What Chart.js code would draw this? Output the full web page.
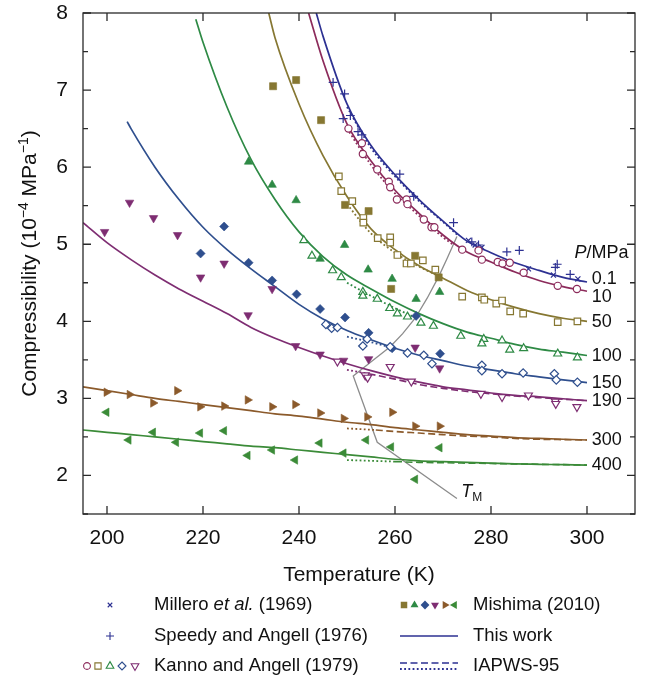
<!DOCTYPE html>
<html lang="en">
<head>
<meta charset="UTF-8">
<title>Compressibility of supercooled water</title>
<script src="https://cdn.jsdelivr.net/npm/chart.js"></script>
<style>
  body { margin: 0; background: #fff; }
</style>
</head>
<body>
<div style="width:657px; height:677px;">
  <canvas id="chart" width="657" height="677"></canvas>
</div>
<script>
// axis ticks
const xTicks = [200, 220, 240, 260, 280, 300];
const yTicks = [2, 3, 4, 5, 6, 7, 8];
const yMinor = [1.5, 2.5, 3.5, 4.5, 5.5, 6.5, 7.5];

// "This work" curves, one per pressure (T in K, kappa in 1e-4 MPa^-1)
const t01 = [243.6, 245, 250, 255, 260, 265, 270, 275, 280, 285, 290, 295, 300];
const k01 = [8.0, 7.7, 6.82, 6.28, 5.9, 5.58, 5.3, 5.04, 4.89, 4.76, 4.66, 4.57, 4.51];
const t10 = [242, 245, 250, 255, 260, 265, 270, 275, 280, 285, 290, 295, 300];
const k10 = [8.0, 7.38, 6.56, 6.08, 5.7, 5.4, 5.12, 4.9, 4.77, 4.64, 4.53, 4.45, 4.39];
const t50 = [233.7, 235, 240, 245, 250, 255, 260, 265, 270, 275, 280, 285, 290, 295, 300];
const k50 = [8.0, 7.68, 6.82, 6.15, 5.62, 5.2, 4.93, 4.72, 4.56, 4.4, 4.28, 4.18, 4.1, 4.04, 4.0];
const t100 = [218.5, 220, 225, 230, 235, 240, 245, 250, 255, 260, 265, 270, 275, 280, 285, 290, 295, 300];
const k100 = [7.92, 7.62, 6.78, 6.1, 5.58, 5.16, 4.84, 4.6, 4.42, 4.25, 4.1, 3.97, 3.86, 3.78, 3.7, 3.64, 3.6, 3.556];
const t150 = [204.2, 205, 210, 215, 220, 225, 230, 235, 240, 245, 250, 255, 260, 265, 270, 275, 280, 285, 290, 295, 300];
const k150 = [6.59, 6.5, 6.0, 5.58, 5.22, 4.93, 4.68, 4.45, 4.22, 4.03, 3.88, 3.76, 3.65, 3.56, 3.49, 3.42, 3.37, 3.32, 3.28, 3.24, 3.205];
const tLow = [195, 200, 205, 210, 215, 220, 225, 230, 235, 240, 245, 250, 255, 260, 265, 270, 275, 280, 285, 290, 295, 300];
const k190 = [5.28, 5.02, 4.8, 4.6, 4.42, 4.26, 4.1, 3.92, 3.78, 3.66, 3.55, 3.45, 3.36, 3.28, 3.21, 3.15, 3.11, 3.07, 3.04, 3.02, 2.995, 2.97];
const k300 = [3.15, 3.1, 3.05, 3.0, 2.96, 2.92, 2.88, 2.84, 2.8, 2.77, 2.73, 2.69, 2.66, 2.62, 2.59, 2.56, 2.53, 2.51, 2.49, 2.48, 2.47, 2.46];
const k400 = [2.59, 2.56, 2.53, 2.5, 2.47, 2.44, 2.41, 2.38, 2.36, 2.33, 2.3, 2.27, 2.24, 2.21, 2.19, 2.18, 2.17, 2.16, 2.15, 2.145, 2.14, 2.135];

// IAPWS-95: dotted below the melting line, dashed above it
const iapDotT01 = [250, 255, 260, 265, 270, 273];
const iapDotK01 = [6.78, 6.25, 5.88, 5.56, 5.29, 5.12];
const iapDotT10 = [250, 255, 260, 265, 270, 272];
const iapDotK10 = [6.5, 6.03, 5.66, 5.37, 5.09, 5.0];
const iapDotT50 = [250, 255, 260, 265, 268.7];
const iapDotK50 = [5.52, 5.14, 4.89, 4.71, 4.6];
const iapDotT100 = [250, 255, 260, 264.2];
const iapDotK100 = [4.5, 4.33, 4.17, 4.05];
const iapDotT150 = [250, 255, 259.2];
const iapDotK150 = [3.8, 3.73, 3.66];
const iapDotT190 = [250, 254.5];
const iapDotK190 = [3.37, 3.32];
const iapDotT300 = [250, 256];
const iapDotK300 = [2.61, 2.59];
const iapDotT400 = [250, 255, 260];
const iapDotK400 = [2.2, 2.19, 2.18];
const iapDashT190 = [254.5, 260, 265, 270, 275, 280, 285, 290, 295, 300];
const iapDashK190 = [3.32, 3.25, 3.18, 3.13, 3.09, 3.06, 3.03, 3.01, 2.99, 2.97];
const iapDashT300 = [256, 260, 265, 270, 275, 280, 285, 290, 295, 300];
const iapDashK300 = [2.59, 2.57, 2.55, 2.53, 2.51, 2.5, 2.48, 2.47, 2.465, 2.46];
const iapDashT400 = [260, 265, 270, 275, 280, 285, 290, 295, 300];
const iapDashK400 = [2.18, 2.17, 2.165, 2.16, 2.155, 2.15, 2.145, 2.14, 2.135];

// melting line T_M
const tmT = [272.9, 270.9, 269.1, 266.7, 264.2, 261.6, 259.0, 255.1, 251.3, 256.3, 272.9];
const tmK = [5.10, 4.82, 4.58, 4.30, 4.04, 3.84, 3.67, 3.48, 3.29, 2.43, 1.70];

// Millero et al. (1969), Speedy and Angell (1976), 0.1 MPa
const milleroT = [275.3, 276.7, 278.1, 287.8, 293.0, 298.1];
const milleroK = [5.05, 4.99, 4.96, 4.68, 4.60, 4.55];
const speedyT = [247.1, 249.5, 249.2, 250.7, 252.3, 253.1, 261.0, 263.9, 272.2, 276.0, 277.4, 283.3, 285.9, 293.8, 293.4, 296.5];
const speedyK = [7.10, 6.95, 6.63, 6.67, 6.46, 6.42, 5.91, 5.62, 5.28, 5.03, 4.99, 4.90, 4.92, 4.74, 4.70, 4.61];

// Kanno and Angell (1979), open markers
const kaT10 = [250.3, 253.1, 253.3, 256.3, 258.7, 259.0, 260.4, 262.4, 262.6, 266.0, 267.6, 268.2, 274.0, 277.4, 278.1, 281.4, 282.4, 283.9, 286.8, 293.9, 297.9];
const kaK10 = [6.50, 6.31, 6.17, 5.97, 5.81, 5.74, 5.58, 5.58, 5.52, 5.32, 5.22, 5.22, 4.93, 4.92, 4.80, 4.77, 4.75, 4.76, 4.63, 4.46, 4.42];
const kaT50 = [248.3, 248.8, 251.1, 253.4, 253.4, 256.4, 259.0, 259.0, 260.5, 262.4, 263.3, 265.8, 268.4, 274.0, 278.1, 278.6, 281.1, 282.3, 284.0, 286.7, 293.9, 298.0];
const kaK50 = [5.88, 5.69, 5.56, 5.34, 5.28, 5.08, 5.09, 5.02, 4.86, 4.75, 4.75, 4.79, 4.67, 4.32, 4.31, 4.28, 4.23, 4.27, 4.13, 4.10, 3.99, 4.00];
const kaT100 = [241.0, 242.7, 247.0, 248.8, 253.3, 253.3, 256.3, 258.9, 260.5, 262.6, 265.4, 268.0, 273.7, 278.5, 278.1, 282.3, 283.9, 286.8, 293.9, 298.0];
const kaK100 = [5.05, 4.85, 4.66, 4.57, 4.38, 4.33, 4.29, 4.17, 4.10, 4.06, 3.98, 3.94, 3.81, 3.77, 3.71, 3.75, 3.63, 3.65, 3.58, 3.53];
const kaT150 = [245.6, 246.8, 248.0, 253.3, 254.2, 259.0, 262.6, 266.0, 267.7, 278.1, 278.1, 282.3, 286.7, 293.2, 293.6, 298.0];
const kaK150 = [3.96, 3.91, 3.92, 3.68, 3.77, 3.67, 3.59, 3.56, 3.45, 3.43, 3.36, 3.32, 3.33, 3.32, 3.24, 3.21];
const kaT190 = [248.0, 253.8, 254.3, 259.0, 263.4, 277.9, 282.3, 287.8, 293.4, 293.5, 297.9];
const kaK190 = [3.48, 3.30, 3.27, 3.41, 3.22, 3.06, 3.02, 3.04, 2.96, 2.93, 2.89];

// Mishima (2010), filled markers
const miT50 = [234.6, 239.4, 244.6, 249.6, 254.5, 259.2, 264.2, 269.1];
const miK50 = [7.05, 7.13, 6.61, 5.51, 5.43, 4.42, 4.85, 4.57];
const miT100 = [229.5, 234.4, 239.4, 244.4, 249.5, 254.4, 259.4, 264.4, 269.3];
const miK100 = [6.07, 5.77, 5.57, 4.81, 4.99, 4.67, 4.55, 4.29, 4.38];
const miT150 = [219.5, 224.4, 229.5, 234.4, 239.5, 244.4, 249.6, 254.5, 259.4, 264.4, 269.4];
const miK150 = [4.88, 5.23, 4.76, 4.53, 4.35, 4.16, 4.05, 3.85, 3.65, 4.07, 3.58];
const miT190 = [199.5, 204.7, 209.7, 214.7, 219.5, 224.4, 229.4, 234.4, 239.3, 244.4, 249.3, 254.5, 264.2, 269.3];
const miK190 = [5.16, 5.54, 5.34, 5.12, 4.57, 4.75, 4.08, 4.42, 3.68, 3.57, 3.49, 3.51, 3.66, 3.39];
const miT300 = [199.9, 204.7, 209.6, 214.6, 219.4, 224.4, 229.3, 234.4, 239.2, 244.4, 249.3, 254.2, 259.4, 264.2, 269.3];
const miK300 = [3.08, 3.05, 2.94, 3.10, 2.89, 2.90, 2.98, 2.89, 2.92, 2.81, 2.74, 2.76, 2.82, 2.64, 2.64];
const miT400 = [199.9, 204.5, 209.6, 214.4, 219.4, 224.4, 229.3, 234.4, 239.2, 244.3, 249.3, 254.0, 259.2, 264.2, 269.3];
const miK400 = [2.82, 2.46, 2.56, 2.43, 2.55, 2.58, 2.26, 2.33, 2.20, 2.42, 2.29, 2.46, 2.37, 1.95, 2.36];

const pressureLabels = ['0.1', '10', '50', '100', '150', '190', '300', '400'];

const C = {
    p01: '#2d3192', p10: '#8c2b5b', p50: '#867732', p100: '#2e8a45',
    p150: '#2f4f8e', p190: '#7e2d72', p300: '#8b5a2b', p400: '#3b8b38', tm: '#8c8c8c'
};
const FONT = '"Liberation Sans", Arial, Helvetica, sans-serif';

function pts(T, K) { return T.map((t, i) => ({ x: t, y: K[i] })); }

function curve(T, K, color, dash, width, order) {
    return {
        data: pts(T, K), showLine: true, borderColor: color, borderWidth: width,
        borderDash: dash, pointRadius: 0, pointHoverRadius: 0, fill: false,
        cubicInterpolationMode: 'monotone', order: order
    };
}

function marks(T, K, style, r, rot, color, open) {
    return {
        data: pts(T, K), showLine: false, pointStyle: style, pointRadius: r,
        pointHoverRadius: r, pointRotation: rot, borderColor: color,
        backgroundColor: open ? '#fff' : color, borderWidth: open ? 1.2 : 0.6, order: 0
    };
}

const DOT = [1.8, 2.4], DASH = [7, 3.5];

const datasets = [
    // Kanno and Angell (open)
    marks(kaT10, kaK10, 'circle', 3.6, 0, C.p10, true),
    marks(kaT50, kaK50, 'rect', 4.6, 0, C.p50, true),
    marks(kaT100, kaK100, 'triangle', 4.6, 0, C.p100, true),
    marks(kaT150, kaK150, 'rectRot', 4.2, 0, C.p150, true),
    marks(kaT190, kaK190, 'triangle', 4.6, 180, C.p190, true),
    // Millero and Speedy
    { ...marks(milleroT, milleroK, 'crossRot', 3.6, 0, C.p01, true), borderWidth: 1.2 },
    { ...marks(speedyT, speedyK, 'cross', 4.4, 0, C.p01, true), borderWidth: 1.2 },
    // Mishima (filled)
    marks(miT50, miK50, 'rect', 5, 0, C.p50, false),
    marks(miT100, miK100, 'triangle', 4.9, 0, C.p100, false),
    marks(miT150, miK150, 'rectRot', 4.5, 0, C.p150, false),
    marks(miT190, miK190, 'triangle', 4.9, 180, C.p190, false),
    marks(miT300, miK300, 'triangle', 4.9, 90, C.p300, false),
    marks(miT400, miK400, 'triangle', 4.9, 270, C.p400, false),
    // this work
    curve(t01, k01, C.p01, [], 1.7, 1),
    curve(t10, k10, C.p10, [], 1.7, 1),
    curve(t50, k50, C.p50, [], 1.7, 1),
    curve(t100, k100, C.p100, [], 1.7, 1),
    curve(t150, k150, C.p150, [], 1.7, 1),
    curve(tLow, k190, C.p190, [], 1.7, 1),
    curve(tLow, k300, C.p300, [], 1.7, 1),
    curve(tLow, k400, C.p400, [], 1.7, 1),
    // IAPWS-95
    curve(iapDotT01, iapDotK01, C.p01, DOT, 1.8, 2),
    curve(iapDotT10, iapDotK10, C.p10, DOT, 1.8, 2),
    curve(iapDotT50, iapDotK50, C.p50, DOT, 1.8, 2),
    curve(iapDotT100, iapDotK100, C.p100, DOT, 1.8, 2),
    curve(iapDotT150, iapDotK150, C.p150, DOT, 1.8, 2),
    curve(iapDotT190, iapDotK190, C.p190, DOT, 1.8, 2),
    curve(iapDotT300, iapDotK300, C.p300, DOT, 1.8, 2),
    curve(iapDotT400, iapDotK400, C.p400, DOT, 1.8, 2),
    curve(iapDashT190, iapDashK190, C.p190, DASH, 1.6, 2),
    curve(iapDashT300, iapDashK300, C.p300, DASH, 1.6, 2),
    curve(iapDashT400, iapDashK400, C.p400, DASH, 1.6, 2),
    // melting line
    { data: pts(tmT, tmK), showLine: true, borderColor: C.tm, borderWidth: 1.3,
      pointRadius: 0, pointHoverRadius: 0, tension: 0, order: 3 }
];

// small marker shapes for the legend
function drawMarker(ctx, style, x, y, r, rot, color, open) {
    ctx.save();
    ctx.translate(x, y);
    ctx.rotate(rot * Math.PI / 180);
    ctx.beginPath();
    if (style === 'circle') {
        ctx.arc(0, 0, r, 0, 2 * Math.PI);
    } else if (style === 'rect') {
        const s = r * Math.SQRT1_2;
        ctx.rect(-s, -s, 2 * s, 2 * s);
    } else if (style === 'rectRot') {
        ctx.moveTo(0, -r); ctx.lineTo(r, 0); ctx.lineTo(0, r); ctx.lineTo(-r, 0); ctx.closePath();
    } else if (style === 'triangle') {
        for (let i = 0; i < 3; i++) {
            const a = i * 2 * Math.PI / 3;
            ctx[i ? 'lineTo' : 'moveTo'](Math.sin(a) * r, -Math.cos(a) * r);
        }
        ctx.closePath();
    } else if (style === 'cross' || style === 'crossRot') {
        if (style === 'crossRot') ctx.rotate(Math.PI / 4);
        ctx.moveTo(0, -r); ctx.lineTo(0, r); ctx.moveTo(-r, 0); ctx.lineTo(r, 0);
    }
    ctx.lineWidth = 1.1;
    ctx.strokeStyle = color;
    if (style === 'cross' || style === 'crossRot') {
        ctx.stroke();
    } else if (open) {
        ctx.fillStyle = '#fff'; ctx.fill(); ctx.stroke();
    } else {
        ctx.fillStyle = color; ctx.fill();
    }
    ctx.restore();
}

function richText(ctx, parts, x, y) {
    parts.forEach(p => {
        ctx.font = p.font;
        ctx.fillText(p.text, x, y + (p.dy || 0));
        x += ctx.measureText(p.text).width;
    });
}

const decor = {
    id: 'decor',
    afterDraw(chart) {
        const ctx = chart.ctx, a = chart.chartArea, sx = chart.scales.x, sy = chart.scales.y;
        ctx.save();

        // frame with inward ticks
        ctx.strokeStyle = '#2a2a2a';
        ctx.lineWidth = 1.3;
        ctx.strokeRect(a.left, a.top, a.right - a.left, a.bottom - a.top);
        ctx.beginPath();
        xTicks.forEach(v => {
            const px = sx.getPixelForValue(v);
            ctx.moveTo(px, a.bottom); ctx.lineTo(px, a.bottom - 8);
            ctx.moveTo(px, a.top); ctx.lineTo(px, a.top + 8);
        });
        yTicks.concat(yMinor).forEach(v => {
            const py = sy.getPixelForValue(v);
            const len = yTicks.includes(v) ? 8 : 5;
            ctx.moveTo(a.left, py); ctx.lineTo(a.left + len, py);
            ctx.moveTo(a.right, py); ctx.lineTo(a.right - len, py);
        });
        ctx.stroke();

        ctx.fillStyle = '#111';
        ctx.textBaseline = 'middle';

        // x axis title
        ctx.font = '21px ' + FONT;
        ctx.textAlign = 'center';
        ctx.fillText('Temperature (K)', (a.left + a.right) / 2, 575);

        // y axis title with superscripts
        ctx.save();
        ctx.translate(36, (a.top + a.bottom) / 2);
        ctx.rotate(-Math.PI / 2);
        ctx.textAlign = 'left';
        ctx.textBaseline = 'alphabetic';
        const big = '21px ' + FONT, sup = '14px ' + FONT;
        const yParts = [
            { text: 'Compressibility (10', font: big }, { text: '\u22124', font: sup, dy: -8 },
            { text: ' MPa', font: big }, { text: '\u22121', font: sup, dy: -8 }, { text: ')', font: big }
        ];
        let w = 0;
        yParts.forEach(p => { ctx.font = p.font; w += ctx.measureText(p.text).width; });
        richText(ctx, yParts, -w / 2, 0);
        ctx.restore();

        // pressure labels at the right end of each curve
        const labelK = [4.545, 4.32, 3.99, 3.55, 3.2, 2.97, 2.46, 2.13];
        ctx.textAlign = 'left';
        ctx.textBaseline = 'middle';
        const lx = sx.getPixelForValue(301);
        pressureLabels.forEach((t, i) => {
            ctx.font = '18px ' + FONT;
            ctx.fillText(t, lx, sy.getPixelForValue(labelK[i]));
        });
        richText(ctx, [{ text: 'P', font: 'italic 18px ' + FONT }, { text: '/MPa', font: '18px ' + FONT }],
            sx.getPixelForValue(297.4), sy.getPixelForValue(4.88));

        // T_M label
        ctx.textBaseline = 'alphabetic';
        richText(ctx, [{ text: 'T', font: 'italic 18px ' + FONT }, { text: 'M', font: '12px ' + FONT, dy: 4 }],
            sx.getPixelForValue(273.8), sy.getPixelForValue(1.72));

        // legend
        ctx.textBaseline = 'middle';
        const lf = '18.5px ' + FONT;
        const r1 = 605, r2 = 636, r3 = 666;
        drawMarker(ctx, 'crossRot', 110, r1, 3.2, 0, C.p01, false);
        richText(ctx, [{ text: 'Millero ', font: lf }, { text: 'et al.', font: 'italic ' + lf }, { text: ' (1969)', font: lf }], 154, r1);
        drawMarker(ctx, 'cross', 110, r2, 4, 0, C.p01, false);
        richText(ctx, [{ text: 'Speedy and Angell (1976)', font: lf }], 154, r2);
        [['circle', 87, 0, C.p10, 3.4], ['rect', 98, 0, C.p50, 4.4], ['triangle', 110, 0, C.p100, 4.4],
         ['rectRot', 122, 0, C.p150, 4], ['triangle', 135, 180, C.p190, 4.4]].forEach(m =>
            drawMarker(ctx, m[0], m[1], r3, m[4], m[2], m[3], true));
        richText(ctx, [{ text: 'Kanno and Angell (1979)', font: lf }], 154, r3);

        [['rect', 404, 0, C.p50, 4.6], ['triangle', 414.5, 0, C.p100, 4.6], ['rectRot', 425, 0, C.p150, 4.4],
         ['triangle', 435, 180, C.p190, 4.6], ['triangle', 445, 90, C.p300, 4.6], ['triangle', 454.5, 270, C.p400, 4.6]
        ].forEach(m => drawMarker(ctx, m[0], m[1], r1, m[4], m[2], m[3], false));
        richText(ctx, [{ text: 'Mishima (2010)', font: lf }], 473, r1);

        ctx.strokeStyle = C.p01;
        ctx.lineWidth = 1.7;
        ctx.beginPath(); ctx.moveTo(400, r2); ctx.lineTo(458, r2); ctx.stroke();
        richText(ctx, [{ text: 'This work', font: lf }], 473, r2);

        ctx.setLineDash(DASH);
        ctx.beginPath(); ctx.moveTo(400, r3 - 3); ctx.lineTo(458, r3 - 3); ctx.stroke();
        ctx.setLineDash(DOT);
        ctx.lineWidth = 1.8;
        ctx.beginPath(); ctx.moveTo(400, r3 + 3); ctx.lineTo(458, r3 + 3); ctx.stroke();
        ctx.setLineDash([]);
        richText(ctx, [{ text: 'IAPWS-95', font: lf }], 473, r3);

        ctx.restore();
    }
};

new Chart(document.getElementById('chart').getContext('2d'), {
    type: 'scatter',
    data: { datasets: datasets },
    options: {
        responsive: false,
        animation: false,
        events: [],
        layout: { padding: { top: 13, right: 22, bottom: 0, left: 0 } },
        plugins: { legend: { display: false }, tooltip: { enabled: false } },
        scales: {
            x: {
                type: 'linear', min: 195, max: 310,
                afterBuildTicks: s => { s.ticks = xTicks.map(v => ({ value: v })); },
                afterFit: s => { s.height = 163; s.paddingLeft = 0; s.paddingRight = 0; },
                grid: { display: false, drawTicks: false },
                border: { display: false },
                ticks: { padding: 12, maxRotation: 0, color: '#111', font: { size: 21, family: FONT } }
            },
            y: {
                type: 'linear', min: 1.5, max: 8,
                afterBuildTicks: s => { s.ticks = yTicks.map(v => ({ value: v })); },
                afterFit: s => { s.width = 83; s.paddingTop = 0; s.paddingBottom = 0; },
                grid: { display: false, drawTicks: false },
                border: { display: false },
                ticks: { padding: 15, color: '#111', font: { size: 21, family: FONT } }
            }
        }
    },
    plugins: [decor]
});
</script>
</body>
</html>
